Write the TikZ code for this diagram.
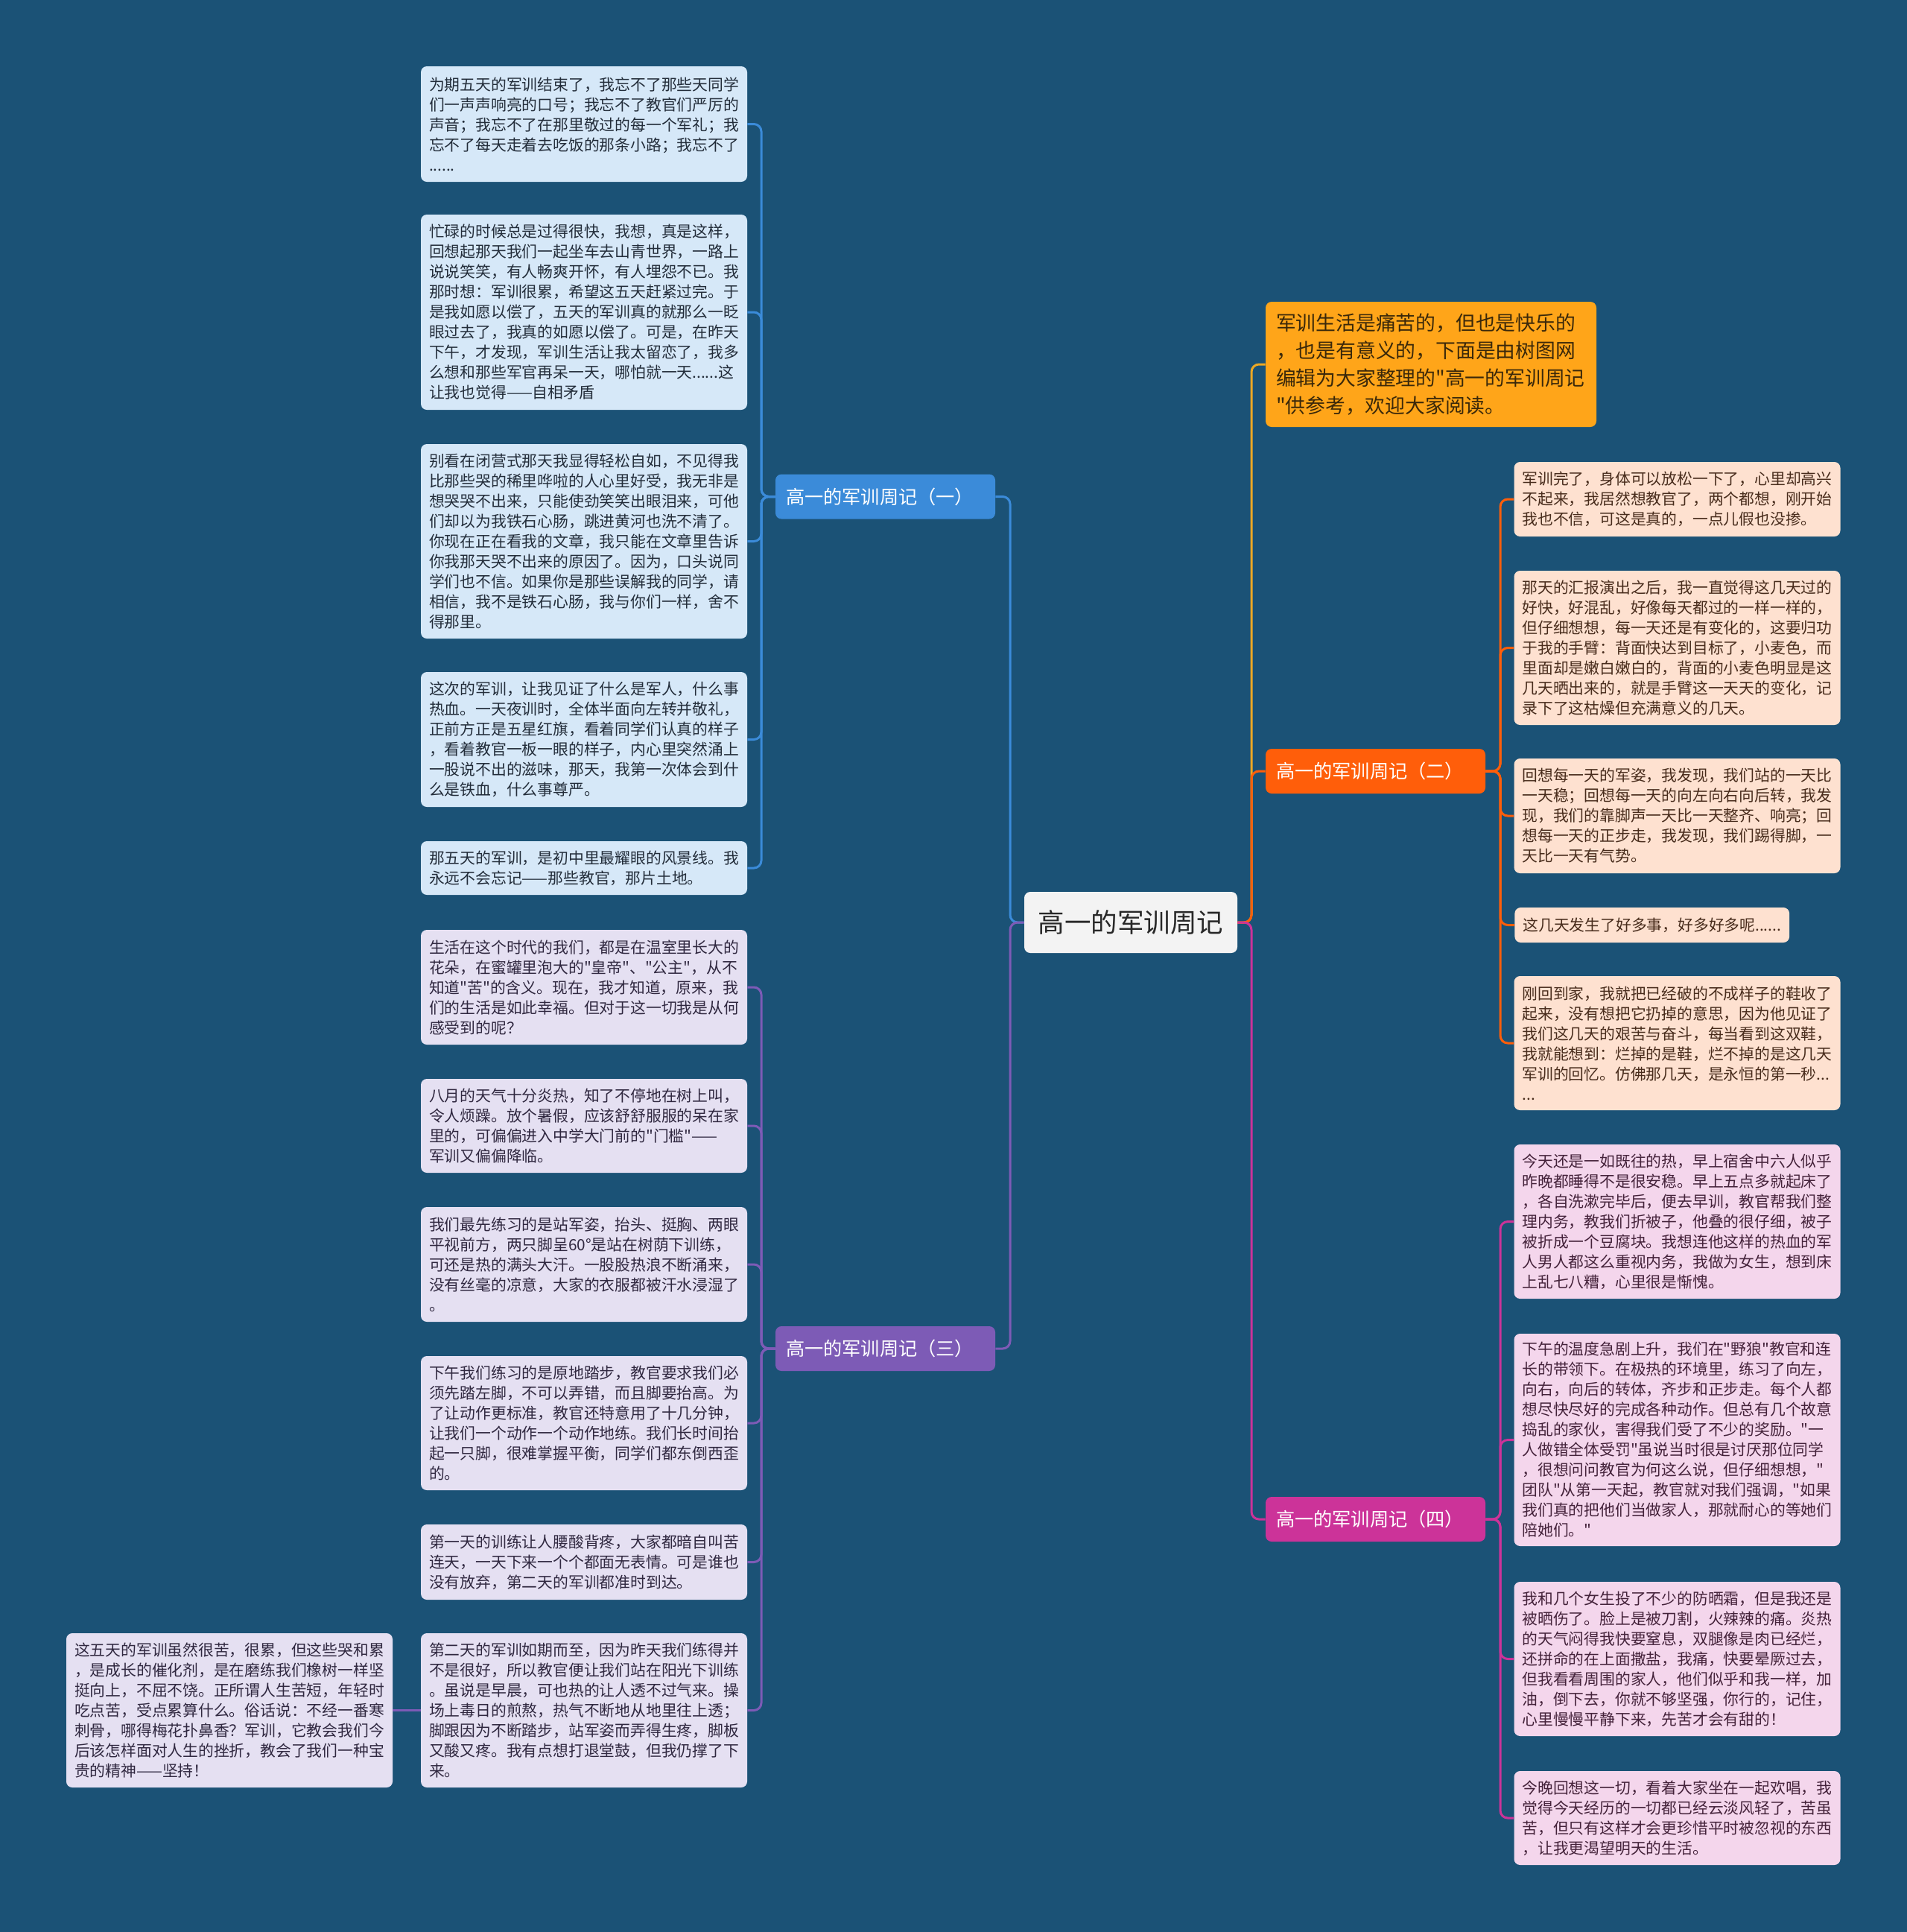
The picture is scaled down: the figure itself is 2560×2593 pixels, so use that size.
\documentclass[tikz,border=0pt]{standalone}
\usepackage{fontspec}
\newfontfamily\cjk{Noto Sans CJK SC}
\definecolor{bgc}{RGB}{27,82,118}
\definecolor{lblue}{RGB}{214,232,248}
\definecolor{llav}{RGB}{229,224,242}
\definecolor{lpeach}{RGB}{254,225,208}
\definecolor{lpink}{RGB}{244,214,236}
\definecolor{tblue}{RGB}{35,45,58}
\definecolor{tlav}{RGB}{48,40,64}
\definecolor{tpeach}{RGB}{72,44,28}
\definecolor{tpink}{RGB}{68,34,58}
\definecolor{cblue}{RGB}{59,139,217}
\definecolor{cpurp}{RGB}{125,91,182}
\definecolor{corange}{RGB}{255,94,10}
\definecolor{cmag}{RGB}{204,51,153}
\definecolor{cyel}{RGB}{236,168,36}
\definecolor{topfill}{RGB}{255,165,25}
\definecolor{toptext}{RGB}{58,40,10}
\definecolor{rootfill}{RGB}{243,243,243}
\definecolor{roottext}{RGB}{40,40,40}
\begin{document}
\begin{tikzpicture}[x=0.5pt,y=-0.5pt,
  leafbase/.style={rectangle, rounded corners=4pt, inner xsep=5.5pt, inner ysep=0pt, align=left, font=\cjk\fontsize{10.4pt}{13.5pt}\selectfont},
  leaf/.style={leafbase, text width=208pt, minimum width=219pt},
  blueleaf/.style={leaf, fill=lblue, text=tblue},
  lavleaf/.style={leaf, fill=llav, text=tlav},
  peachleaf/.style={leaf, fill=lpeach, text=tpeach},
  pinkleaf/.style={leaf, fill=lpink, text=tpink},
  branchbox/.style={rectangle, rounded corners=4pt, inner xsep=7pt, inner ysep=0pt, text width=133.5pt, align=left, minimum height=30pt, text=white, font=\cjk\fontsize{12.6pt}{15pt}\selectfont},
  conn/.style={line width=1.5pt, rounded corners=5pt},
]
\fill[bgc] (0,0) rectangle (2560,2593);
\useasboundingbox (0,0) rectangle (2560,2593);

% root
\node[rectangle, rounded corners=4pt, fill=rootfill, text=roottext, minimum width=143pt, minimum height=41pt, inner sep=0pt, font=\cjk\fontsize{17.75pt}{20pt}\selectfont] (root) at (1518,1238) {高一的军训周记};

% branches
\node[branchbox, fill=cblue] (B1) at (1188.5,666.5) {高一的军训周记（一）};
\node[branchbox, fill=cpurp] (B3) at (1188.5,1810) {高一的军训周记（三）};
\node[branchbox, fill=corange] (B2) at (1846.5,1035) {高一的军训周记（二）};
\node[branchbox, fill=cmag] (B4) at (1846.5,2039) {高一的军训周记（四）};

% top summary
\node[rectangle, rounded corners=4pt, fill=topfill, text=toptext, inner xsep=7pt, inner ysep=0pt, text width=208pt, minimum height=84pt, align=left, font=\cjk\fontsize{13.4pt}{18.5pt}\selectfont] (T) at (1921,489) {军训生活是痛苦的，但也是快乐的\\，也是有意义的，下面是由树图网\\编辑为大家整理的"高一的军训周记\\"供参考，欢迎大家阅读。};

% left leaves of branch one
\node[blueleaf, minimum height=77.5pt] (L1) at (784,166.5) {为期五天的军训结束了，我忘不了那些天同学\\们一声声响亮的口号；我忘不了教官们严厉的\\声音；我忘不了在那里敬过的每一个军礼；我\\忘不了每天走着去吃饭的那条小路；我忘不了\\......};
\node[blueleaf, minimum height=131pt] (L2) at (784,419) {忙碌的时候总是过得很快，我想，真是这样，\\回想起那天我们一起坐车去山青世界，一路上\\说说笑笑，有人畅爽开怀，有人埋怨不已。我\\那时想：军训很累，希望这五天赶紧过完。于\\是我如愿以偿了，五天的军训真的就那么一眨\\眼过去了，我真的如愿以偿了。可是，在昨天\\下午，才发现，军训生活让我太留恋了，我多\\么想和那些军官再呆一天，哪怕就一天......这\\让我也觉得——自相矛盾};
\node[blueleaf, minimum height=130.5pt] (L3) at (784,726.5) {别看在闭营式那天我显得轻松自如，不见得我\\比那些哭的稀里哗啦的人心里好受，我无非是\\想哭哭不出来，只能使劲笑笑出眼泪来，可他\\们却以为我铁石心肠，跳进黄河也洗不清了。\\你现在正在看我的文章，我只能在文章里告诉\\你我那天哭不出来的原因了。因为，口头说同\\学们也不信。如果你是那些误解我的同学，请\\相信，我不是铁石心肠，我与你们一样，舍不\\得那里。};
\node[blueleaf, minimum height=90.5pt] (L4) at (784,992.5) {这次的军训，让我见证了什么是军人，什么事\\热血。一天夜训时，全体半面向左转并敬礼，\\正前方正是五星红旗，看着同学们认真的样子\\，看着教官一板一眼的样子，内心里突然涌上\\一股说不出的滋味，那天，我第一次体会到什\\么是铁血，什么事尊严。};
\node[blueleaf, minimum height=36pt] (L5) at (784,1165) {那五天的军训，是初中里最耀眼的风景线。我\\永远不会忘记——那些教官，那片土地。};

% left leaves of branch three
\node[lavleaf, minimum height=77pt] (L6) at (784,1325) {生活在这个时代的我们，都是在温室里长大的\\花朵，在蜜罐里泡大的"皇帝"、"公主"，从不\\知道"苦"的含义。现在，我才知道，原来，我\\们的生活是如此幸福。但对于这一切我是从何\\感受到的呢？};
\node[lavleaf, minimum height=63pt] (L7) at (784,1511) {八月的天气十分炎热，知了不停地在树上叫，\\令人烦躁。放个暑假，应该舒舒服服的呆在家\\里的，可偏偏进入中学大门前的"门槛"——\\军训又偏偏降临。};
\node[lavleaf, minimum height=77pt] (L8) at (784,1697) {我们最先练习的是站军姿，抬头、挺胸、两眼\\平视前方，两只脚呈60°是站在树荫下训练，\\可还是热的满头大汗。一股股热浪不断涌来，\\没有丝毫的凉意，大家的衣服都被汗水浸湿了\\。};
\node[lavleaf, minimum height=90pt] (L9) at (784,1910) {下午我们练习的是原地踏步，教官要求我们必\\须先踏左脚，不可以弄错，而且脚要抬高。为\\了让动作更标准，教官还特意用了十几分钟，\\让我们一个动作一个动作地练。我们长时间抬\\起一只脚，很难掌握平衡，同学们都东倒西歪\\的。};
\node[lavleaf, minimum height=50.5pt] (L10) at (784,2096.5) {第一天的训练让人腰酸背疼，大家都暗自叫苦\\连天，一天下来一个个都面无表情。可是谁也\\没有放弃，第二天的军训都准时到达。};
\node[lavleaf, minimum height=103.5pt] (L11) at (784,2295.5) {第二天的军训如期而至，因为昨天我们练得并\\不是很好，所以教官便让我们站在阳光下训练\\。虽说是早晨，可也热的让人透不过气来。操\\场上毒日的煎熬，热气不断地从地里往上透；\\脚跟因为不断踏步，站军姿而弄得生疼，脚板\\又酸又疼。我有点想打退堂鼓，但我仍撑了下\\来。};
\node[lavleaf, minimum height=103.5pt] (FL) at (308,2295.5) {这五天的军训虽然很苦，很累，但这些哭和累\\，是成长的催化剂，是在磨练我们橡树一样坚\\挺向上，不屈不饶。正所谓人生苦短，年轻时\\吃点苦，受点累算什么。俗话说：不经一番寒\\刺骨，哪得梅花扑鼻香？军训，它教会我们今\\后该怎样面对人生的挫折，教会了我们一种宝\\贵的精神——坚持！};

% right leaves of branch two
\node[peachleaf, minimum height=50pt] (R1) at (2251.5,670) {军训完了，身体可以放松一下了，心里却高兴\\不起来，我居然想教官了，两个都想，刚开始\\我也不信，可这是真的，一点儿假也没掺。};
\node[peachleaf, minimum height=103.5pt] (R2) at (2251.5,869.5) {那天的汇报演出之后，我一直觉得这几天过的\\好快，好混乱，好像每天都过的一样一样的，\\但仔细想想，每一天还是有变化的，这要归功\\于我的手臂：背面快达到目标了，小麦色，而\\里面却是嫩白嫩白的，背面的小麦色明显是这\\几天晒出来的，就是手臂这一天天的变化，记\\录下了这枯燥但充满意义的几天。};
\node[peachleaf, minimum height=77pt] (R3) at (2251.5,1095) {回想每一天的军姿，我发现，我们站的一天比\\一天稳；回想每一天的向左向右向后转，我发\\现，我们的靠脚声一天比一天整齐、响亮；回\\想每一天的正步走，我发现，我们踢得脚，一\\天比一天有气势。};
\node[leafbase, fill=lpeach, text=tpeach, minimum height=23.5pt, anchor=west] (R4) at (2033,1241.5) {这几天发生了好多事，好多好多呢......};
\node[peachleaf, minimum height=90pt] (R5) at (2251.5,1400) {刚回到家，我就把已经破的不成样子的鞋收了\\起来，没有想把它扔掉的意思，因为他见证了\\我们这几天的艰苦与奋斗，每当看到这双鞋，\\我就能想到：烂掉的是鞋，烂不掉的是这几天\\军训的回忆。仿佛那几天，是永恒的第一秒...\\...};

% right leaves of branch four
\node[pinkleaf, minimum height=103.5pt] (R6) at (2251.5,1639.5) {今天还是一如既往的热，早上宿舍中六人似乎\\昨晚都睡得不是很安稳。早上五点多就起床了\\，各自洗漱完毕后，便去早训，教官帮我们整\\理内务，教我们折被子，他叠的很仔细，被子\\被折成一个豆腐块。我想连他这样的热血的军\\人男人都这么重视内务，我做为女生，想到床\\上乱七八糟，心里很是惭愧。};
\node[pinkleaf, minimum height=142.5pt] (R7) at (2251.5,1932.5) {下午的温度急剧上升，我们在"野狼"教官和连\\长的带领下。在极热的环境里，练习了向左，\\向右，向后的转体，齐步和正步走。每个人都\\想尽快尽好的完成各种动作。但总有几个故意\\捣乱的家伙，害得我们受了不少的奖励。"一\\人做错全体受罚"虽说当时很是讨厌那位同学\\，很想问问教官为何这么说，但仔细想想，"\\团队"从第一天起，教官就对我们强调，"如果\\我们真的把他们当做家人，那就耐心的等她们\\陪她们。"};
\node[pinkleaf, minimum height=103.5pt] (R8) at (2251.5,2226.5) {我和几个女生投了不少的防晒霜，但是我还是\\被晒伤了。脸上是被刀割，火辣辣的痛。炎热\\的天气闷得我快要窒息，双腿像是肉已经烂，\\还拼命的在上面撒盐，我痛，快要晕厥过去，\\但我看看周围的家人，他们似乎和我一样，加\\油，倒下去，你就不够坚强，你行的，记住，\\心里慢慢平静下来，先苦才会有甜的！};
\node[pinkleaf, minimum height=63pt] (R9) at (2251.5,2440) {今晚回想这一切，看着大家坐在一起欢唱，我\\觉得今天经历的一切都已经云淡风轻了，苦虽\\苦，但只有这样才会更珍惜平时被忽视的东西\\，让我更渴望明天的生活。};

% junction points
\coordinate (jl) at (1356,1238);
\coordinate (jr) at (1680,1238);
\coordinate (j1) at (1022,666.5);
\coordinate (j3) at (1022,1810);
\coordinate (j2) at (2014,1035);
\coordinate (j4) at (2014,2039);

% first level connectors
\draw[conn, cyel] (root.east) -- (jr) |- (T.west);
\draw[conn, corange] (root.east) -- (jr) |- (B2.west);
\draw[conn, cmag] (root.east) -- (jr) |- (B4.west);
\draw[conn, cblue] (root.west) -- (jl) |- (B1.east);
\draw[conn, cpurp] (root.west) -- (jl) |- (B3.east);

% second level connectors
\foreach \n in {L1,L2,L3,L4,L5} \draw[conn, cblue] (B1.west) -- (j1) |- (\n.east);
\foreach \n in {L6,L7,L8,L9,L10,L11} \draw[conn, cpurp] (B3.west) -- (j3) |- (\n.east);
\foreach \n in {R1,R2,R3,R4,R5} \draw[conn, corange] (B2.east) -- (j2) |- (\n.west);
\foreach \n in {R6,R7,R8,R9} \draw[conn, cmag] (B4.east) -- (j4) |- (\n.west);
\draw[conn, cpurp] (L11.west) -- (FL.east);
\end{tikzpicture}
\end{document}
